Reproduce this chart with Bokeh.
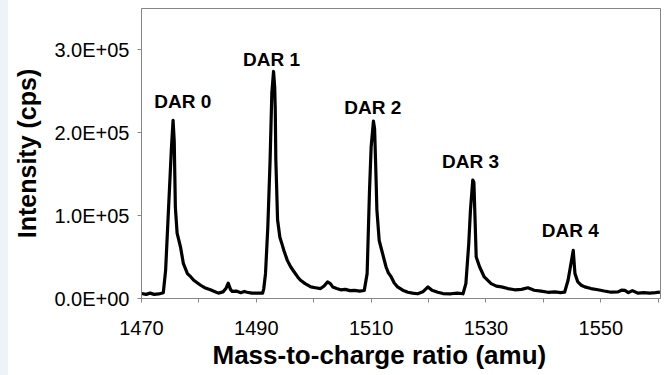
from bokeh.plotting import figure
from bokeh.models import Range1d, FixedTicker, ColumnDataSource, Div, Title
from bokeh.layouts import row
from bokeh.core.properties import value
from bokeh.embed import file_html
from bokeh.resources import INLINE

# Spectrum trace (m/z, counts per second)
mz = [1470.0, 1470.8, 1471.5, 1472.2, 1473.0, 1473.8, 1474.2, 1474.7, 1475.2, 1475.5,
      1475.7, 1475.8, 1475.9, 1476.2, 1476.8, 1477.3, 1478.0, 1478.6, 1479.1, 1479.7,
      1480.3, 1481.0, 1482.0, 1482.7, 1483.4, 1484.2, 1484.7, 1485.1, 1485.5, 1485.8,
      1486.5, 1487.3, 1487.9, 1488.4, 1489.2, 1490.0, 1490.7, 1491.1, 1491.3, 1491.6,
      1492.0, 1492.4, 1492.7, 1493.0, 1493.2, 1493.3, 1493.4, 1493.7, 1494.1, 1494.5,
      1494.8, 1495.4, 1496.0, 1496.6, 1497.2, 1497.7, 1498.5, 1499.5, 1500.3, 1501.2,
      1501.8, 1502.4, 1502.9, 1503.3, 1504.0, 1504.7, 1505.5, 1506.3, 1507.1, 1508.0,
      1508.8, 1509.3, 1509.7, 1510.0, 1510.4, 1510.6, 1510.8, 1511.0, 1511.4, 1512.0,
      1512.6, 1513.0, 1513.5, 1514.0, 1514.6, 1515.5, 1516.4, 1517.2, 1518.1, 1519.0,
      1519.9, 1520.6, 1521.6, 1522.5, 1523.9, 1525.0, 1526.0, 1526.5, 1527.0, 1527.3,
      1527.7, 1527.9, 1528.1, 1528.3, 1528.9, 1529.7, 1530.9, 1531.8, 1532.7, 1533.8,
      1535.0, 1536.2, 1537.3, 1538.4, 1539.6, 1540.8, 1542.0, 1543.0, 1543.7, 1544.3,
      1544.8, 1545.2, 1545.5, 1546.0, 1546.6, 1547.2, 1548.3, 1549.5, 1550.6, 1551.8,
      1553.0, 1553.6, 1554.2, 1554.8, 1555.5, 1556.5, 1557.5, 1558.5, 1559.5, 1560.3]
intensity = [6000, 5000, 6500, 5000, 5500, 7000, 34000, 107000, 180000, 215000,
             190000, 150000, 110000, 79000, 62000, 42000, 30000, 26000, 22000, 19000,
             16000, 13000, 10500, 8500, 6500, 8000, 12000, 18500, 11000, 8500,
             9000, 7000, 8500, 7600, 6500, 6500, 6400, 6400, 12000, 30000,
             86000, 167000, 248000, 274000, 255000, 228000, 167000, 95000, 74000, 65000,
             58000, 46000, 38000, 32000, 26000, 22000, 18000, 14000, 13000, 12000,
             15000, 20000, 18000, 14000, 12000, 10500, 11000, 9500, 9700, 9000,
             9700, 30000, 127000, 183000, 214000, 205000, 159000, 107000, 70000, 54000,
             38000, 31000, 26000, 19000, 14000, 10000, 7600, 6500, 5700, 8000,
             14000, 10000, 7600, 6000, 5700, 6500, 5700, 18000, 66000, 107000,
             143000, 140000, 95000, 50000, 38000, 26000, 18000, 15000, 14000, 12000,
             10500, 11000, 13000, 10000, 8800, 7500, 8000, 7000, 7600, 22000,
             42000, 58000, 30000, 20000, 16000, 14000, 12000, 10500, 9000, 7600,
             8000, 10000, 9700, 7000, 9500, 6400, 7000, 6500, 7000, 7600]

# Peak annotations
peak_labels = ["DAR 0", "DAR 1", "DAR 2", "DAR 3", "DAR 4"]
label_mz = [1477.2, 1492.65, 1510.3, 1527.3, 1544.7]
label_int = [238000, 288500, 230000, 165000, 82400]

# Axis ticks
x_ticks = [1470, 1480, 1490, 1500, 1510, 1520, 1530, 1540, 1550, 1560]
x_tick_labels = ["1470", "", "1490", "", "1510", "", "1530", "", "1550", ""]
y_ticks = [0, 100000, 200000, 300000]
y_tick_labels = ["0.0E+00", "1.0E+05", "2.0E+05", "3.0E+05"]

FONT = "Liberation Sans"
GRAY = "#868686"

p = figure(width=657, height=375, output_backend="svg", toolbar_location=None,
           x_range=Range1d(1470, 1560.4), y_range=Range1d(0, 350000),
           min_border_left=133, min_border_right=5, min_border_top=8,
           min_border_bottom=77, margin=0)
p.background_fill_color = "white"
p.border_fill_color = "white"
p.outline_line_color = GRAY
p.outline_line_width = 1
p.xgrid.visible = False
p.ygrid.visible = False

src = ColumnDataSource(dict(mz=mz, intensity=intensity))
p.line("mz", "intensity", source=src, line_color="black", line_width=3.2,
       line_join="round")

lab = ColumnDataSource(dict(x=label_mz, y=label_int, t=peak_labels))
p.text("x", "y", text="t", source=lab, text_font=value(FONT),
       text_font_style="bold", text_font_size="19px", text_color="black",
       text_align="center", text_baseline="alphabetic")

for ax, ticks, labels in ((p.xaxis[0], x_ticks, x_tick_labels),
                          (p.yaxis[0], y_ticks, y_tick_labels)):
    ax.ticker = FixedTicker(ticks=ticks)
    ax.major_label_overrides = {t: l for t, l in zip(ticks, labels)}
    ax.axis_line_color = GRAY
    ax.major_tick_line_color = GRAY
    ax.major_tick_in = 0
    ax.major_tick_out = 4
    ax.minor_tick_line_color = None
    ax.major_label_text_font = FONT
    ax.major_label_text_font_size = "20px"
    ax.major_label_text_color = "black"

p.xaxis.major_label_standoff = 18
p.yaxis.major_label_standoff = 8

p.yaxis.axis_label = "Intensity (cps)"
p.yaxis.axis_label_text_font = FONT
p.yaxis.axis_label_text_font_size = "25px"
p.yaxis.axis_label_text_font_style = "bold"
p.yaxis.axis_label_text_color = "black"
p.yaxis.axis_label_standoff = 10

# x-axis title, slightly left of the frame centre as in the original
xtitle = Title(text="Mass-to-charge ratio (amu)", align="left", offset=71,
               standoff=0, text_font=FONT, text_font_size="26px",
               text_font_style="bold", text_color="black")
p.add_layout(xtitle, "below")

strip = Div(text="", width=8, height=375, margin=0,
            styles={"background-color": "#eef3f9"})
layout = row(strip, p, spacing=0, margin=0)

open("out.html", "w").write(file_html(layout, INLINE))
